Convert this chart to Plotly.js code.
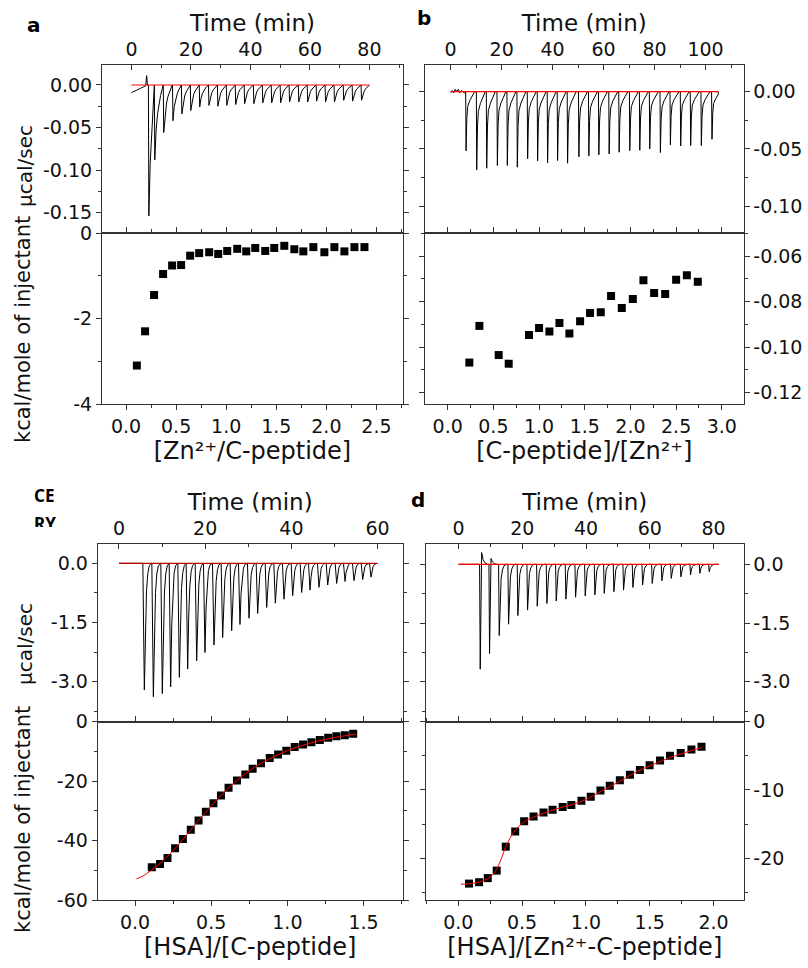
<!DOCTYPE html>
<html><head><meta charset="utf-8">
<script src="https://cdn.plot.ly/plotly-3.0.1.min.js"></script>
<style>html,body{margin:0;padding:0;background:#fff}#chart{width:808px;height:968px}</style>
</head><body><div id="chart"></div>
<script>
// ---------- Panel a : Zn2+ into C-peptide ----------
const aTimePre  = [0, 1.5, 3.0, 4.2, 4.8, 5.1, 5.4];
const aPowerPre = [-0.009, -0.006, -0.004, -0.002, -0.001, 0.011, 0.0];
const aInjTime  = [5.8, 7.8, 10.8, 13.9, 16.9, 19.9, 22.9, 26.0, 29.0, 32.0, 35.0, 38.0, 41.1, 44.1, 47.1, 50.1, 53.1, 56.2, 59.2, 62.2, 65.2, 68.2, 71.3, 74.3, 77.3];
const aPeak     = [-0.154, -0.088, -0.056, -0.042, -0.034, -0.030, -0.026, -0.024, -0.025, -0.024, -0.023, -0.022, -0.022, -0.021, -0.021, -0.021, -0.020, -0.020, -0.020, -0.019, -0.020, -0.020, -0.018, -0.019, -0.018];
const aEnd      = 80;
const aProfDt   = [-0.1, 0.05, 0.5, 1.0, 1.5, 2.0, 2.5, 2.9];
const aProfFrac = [0, 1, 0.6, 0.38, 0.24, 0.14, 0.06, 0];
const aBaseT    = [0, 80];
const aRatio    = [0.108, 0.19, 0.28, 0.37, 0.46, 0.55, 0.64, 0.73, 0.83, 0.92, 1.01, 1.11, 1.20, 1.29, 1.39, 1.48, 1.58, 1.68, 1.77, 1.87, 1.98, 2.08, 2.18, 2.28, 2.38];
const aHeat     = [-3.10, -2.30, -1.45, -0.96, -0.76, -0.75, -0.53, -0.47, -0.45, -0.49, -0.42, -0.37, -0.43, -0.35, -0.42, -0.35, -0.30, -0.38, -0.43, -0.33, -0.45, -0.33, -0.43, -0.33, -0.33];

// ---------- Panel b : C-peptide into Zn2+ ----------
const bTimePre  = [0, 0.6, 1.2, 1.8, 2.4, 3.0, 3.6, 4.2, 4.8, 5.4];
const bPowerPre = [-0.001, 0.001, -0.001, 0.002, 0.0, 0.002, -0.001, 0.001, 0.0, -0.001];
const bInjTime  = [5.99, 10.17, 14.09, 18.27, 22.18, 26.1, 30.15, 34.06, 37.98, 41.9, 45.82, 50.25, 54.17, 58.09, 62.13, 66.05, 70.23, 74.15, 78.06, 82.24, 86.16, 90.2, 94.12, 98.3, 102.48];
const bPeak     = [-0.0517, -0.0683, -0.0669, -0.0645, -0.0645, -0.0660, -0.0587, -0.0605, -0.0622, -0.0602, -0.0625, -0.0570, -0.0561, -0.0552, -0.0544, -0.0529, -0.0515, -0.0512, -0.0500, -0.0532, -0.0465, -0.0474, -0.0471, -0.0471, -0.0416];
const bEnd      = 105;
const bProfDt   = [-0.1, 0.05, 0.35, 0.7, 1.5, 2.5, 3.4];
const bProfFrac = [0, 1, 0.45, 0.25, 0.15, 0.06, 0];
const bBaseT    = [0, 105];
const bRatio    = [0.237, 0.347, 0.558, 0.668, 0.89, 1.0, 1.113, 1.223, 1.332, 1.449, 1.558, 1.675, 1.788, 1.905, 2.026, 2.142, 2.259, 2.380, 2.50, 2.617, 2.737];
const bHeat     = [-0.1068, -0.0907, -0.1035, -0.1073, -0.0947, -0.0916, -0.0932, -0.0894, -0.0940, -0.0887, -0.0850, -0.0847, -0.0776, -0.0828, -0.0789, -0.0707, -0.0762, -0.0767, -0.0704, -0.0685, -0.0713];

// ---------- Panel c : HSA into C-peptide ----------
const cTimePre  = [0, 5.5];
const cPowerPre = [0, 0];
const cInjTime  = [5.88, 7.97, 10.05, 11.99, 14.0, 15.93, 18.02, 19.95, 22.04, 24.05, 26.14, 28.07, 30.16, 32.17, 34.26, 36.27, 38.28, 40.29, 42.38, 44.32, 46.4, 48.42, 50.5, 52.44, 54.52, 56.54, 58.47];
const cPeak     = [-3.21, -3.38, -3.30, -3.13, -2.89, -2.68, -2.47, -2.26, -2.07, -1.88, -1.71, -1.55, -1.39, -1.27, -1.12, -1.01, -0.91, -0.82, -0.74, -0.68, -0.61, -0.55, -0.51, -0.46, -0.44, -0.41, -0.35];
const cEnd      = 59.9;
const cProfDt   = [-0.35, 0, 0.25, 0.5, 0.8, 1.15, 1.6];
const cProfFrac = [0, 1, 0.5, 0.22, 0.08, 0.02, 0];
const cBaseT    = [0, 60];
const cRatio    = [0.110, 0.164, 0.213, 0.263, 0.314, 0.366, 0.417, 0.465, 0.515, 0.564, 0.614, 0.669, 0.724, 0.772, 0.827, 0.884, 0.939, 0.993, 1.048, 1.103, 1.158, 1.213, 1.268, 1.322, 1.377, 1.432];
const cHeat     = [-49.0, -47.9, -45.9, -42.6, -39.5, -36.4, -33.3, -30.3, -27.5, -24.9, -22.3, -19.8, -17.8, -15.9, -14.0, -12.3, -11.1, -9.8, -8.6, -7.7, -7.0, -6.2, -5.5, -5.0, -4.6, -4.1];
const cFitX     = [0.01, 0.05, 0.10, 0.15, 0.20, 0.25, 0.30, 0.35, 0.40, 0.45, 0.50, 0.55, 0.60, 0.65, 0.70, 0.80, 0.90, 1.00, 1.10, 1.20, 1.30, 1.40, 1.45];
const cFitY     = [-52.9, -52.0, -50.3, -48.3, -46.0, -43.4, -40.5, -37.4, -34.3, -31.3, -28.4, -25.6, -23.0, -20.6, -18.5, -14.9, -12.1, -9.8, -8.0, -6.6, -5.5, -4.6, -4.2];

// ---------- Panel d : HSA into Zn2+-C-peptide ----------
const dTimePre  = [0, 6.5];
const dPowerPre = [0, 0];
const dInjTime  = [6.81, 9.74, 12.77, 15.7, 18.62, 21.66, 24.69, 27.72, 30.65, 33.68, 36.72, 39.75, 42.78, 45.71, 48.74, 51.77, 54.7, 57.74, 60.77, 63.8, 66.73, 69.76, 72.79, 75.72, 78.65];
const dPeak     = [-2.68, -2.28, -1.82, -1.53, -1.31, -1.17, -1.07, -1.00, -0.94, -0.89, -0.84, -0.81, -0.78, -0.74, -0.70, -0.66, -0.59, -0.53, -0.49, -0.42, -0.36, -0.32, -0.27, -0.23, -0.19];
const dOvershoot = [0.30, 0.15];
const dEnd      = 81.6;
const dProfDt   = [-0.2, 0, 0.3, 0.6, 1.0, 1.5, 2.2];
const dProfFrac = [0, 1, 0.45, 0.2, 0.08, 0.02, 0];
const dOsDt     = [0.45, 0.9, 1.5, 2.3];
const dOsFrac   = [1, 0.4, 0.12, 0];
const dBaseT    = [0, 81.6];
const dRatio    = [0.084, 0.163, 0.231, 0.301, 0.372, 0.446, 0.516, 0.590, 0.668, 0.739, 0.818, 0.886, 0.965, 1.038, 1.114, 1.187, 1.266, 1.345, 1.423, 1.499, 1.581, 1.659, 1.743, 1.827, 1.906];
const dHeat     = [-23.7, -23.5, -22.9, -21.8, -18.3, -16.1, -14.6, -13.9, -13.3, -12.9, -12.5, -12.2, -11.6, -11.0, -10.1, -9.4, -8.6, -7.8, -7.1, -6.4, -5.7, -5.0, -4.6, -4.1, -3.7];
const dFitX     = [0.02, 0.10, 0.18, 0.23, 0.27, 0.30, 0.33, 0.36, 0.39, 0.42, 0.45, 0.50, 0.55, 0.60, 0.70, 0.80, 0.90, 1.00, 1.10, 1.20, 1.30, 1.40, 1.50, 1.60, 1.70, 1.80, 1.91];
const dFitY     = [-23.8, -23.7, -23.4, -23.0, -22.4, -21.6, -20.4, -18.9, -17.6, -16.6, -15.8, -14.9, -14.3, -13.9, -13.2, -12.6, -12.1, -11.4, -10.4, -9.4, -8.4, -7.3, -6.5, -5.7, -5.0, -4.4, -3.8];

// ---------- tick labels ----------
const timeTicksA = [0, 20, 40, 60, 80];
const timeTicksB = [0, 20, 40, 60, 80, 100];
const timeTicksC = [0, 20, 40, 60];
const timeTicksD = [0, 20, 40, 60, 80];
const aRawTickV = [0, -0.05, -0.10, -0.15], aRawTickT = ['0.00', '-0.05', '-0.10', '-0.15'];
const aIntTickV = [0, -2, -4], aIntTickT = ['0', '-2', '-4'];
const bRawTickV = [0, -0.05, -0.10], bRawTickT = ['0.00', '-0.05', '-0.10'];
const bIntTickV = [-0.06, -0.08, -0.10, -0.12], bIntTickT = ['-0.06', '-0.08', '-0.10', '-0.12'];
const cRawTickV = [0, -1.5, -3.0], cRawTickT = ['0.0', '-1.5', '-3.0'];
const cIntTickV = [0, -20, -40, -60], cIntTickT = ['0', '-20', '-40', '-60'];
const dRawTickV = [0, -1.5, -3.0], dRawTickT = ['0.0', '-1.5', '-3.0'];
const dIntTickV = [0, -10, -20], dIntTickT = ['0', '-10', '-20'];
const aRatioTickV = [0, 0.5, 1.0, 1.5, 2.0, 2.5], aRatioTickT = ['0.0', '0.5', '1.0', '1.5', '2.0', '2.5'];
const bRatioTickV = [0, 0.5, 1.0, 1.5, 2.0, 2.5, 3.0], bRatioTickT = ['0.0', '0.5', '1.0', '1.5', '2.0', '2.5', '3.0'];
const cRatioTickV = [0, 0.5, 1.0, 1.5], cRatioTickT = ['0.0', '0.5', '1.0', '1.5'];
const dRatioTickV = [0, 0.5, 1.0, 1.5, 2.0], dRatioTickT = ['0.0', '0.5', '1.0', '1.5', '2.0'];

// ---------- build raw thermogram traces from read values ----------
function buildRaw(preT, preV, inj, peak, end, pdt, pfr, os, osDt, osFr) {
  const t = preT.slice(), v = preV.slice();
  for (let i = 0; i < inj.length; i++) {
    const limit = (i + 1 < inj.length) ? inj[i + 1] + pdt[0] - 1e-6 : end - 1e-6;
    const o = os && os[i] ? os[i] : 0;
    if (o) {
      t.push(inj[i] + pdt[0]); v.push(0);
      t.push(inj[i]); v.push(peak[i]);
      for (let k = 0; k < osDt.length; k++) {
        const tt = inj[i] + osDt[k];
        if (tt < limit) { t.push(tt); v.push(o * osFr[k]); }
      }
    } else {
      for (let k = 0; k < pdt.length; k++) {
        const tt = inj[i] + pdt[k];
        if (tt < limit) { t.push(tt); v.push(peak[i] * pfr[k]); }
      }
    }
  }
  t.push(end); v.push(0);
  return {t, v};
}
const rawA = buildRaw(aTimePre, aPowerPre, aInjTime, aPeak, aEnd, aProfDt, aProfFrac);
const rawB = buildRaw(bTimePre, bPowerPre, bInjTime, bPeak, bEnd, bProfDt, bProfFrac);
const rawC = buildRaw(cTimePre, cPowerPre, cInjTime, cPeak, cEnd, cProfDt, cProfFrac);
const rawD = buildRaw(dTimePre, dPowerPre, dInjTime, dPeak, dEnd, dProfDt, dProfFrac, dOvershoot, dOsDt, dOsFrac);

const FONT = 'DejaVu Sans';
const LC = '#333';
const rawLine = {color: '#000', width: 1};
const redLine = {color: '#ff0000', width: 1.2};
const sq = {symbol: 'square', size: 8, color: '#000'};

const traces = [
  {x: rawA.t, y: rawA.v, xaxis: 'x', yaxis: 'y', mode: 'lines', line: rawLine},
  {x: aBaseT, y: aBaseT.map(() => 0), xaxis: 'x', yaxis: 'y', mode: 'lines', line: redLine},
  {x: aRatio, y: aHeat, xaxis: 'x2', yaxis: 'y2', mode: 'markers', marker: sq},
  {x: rawB.t, y: rawB.v, xaxis: 'x3', yaxis: 'y3', mode: 'lines', line: rawLine},
  {x: bBaseT, y: bBaseT.map(() => 0), xaxis: 'x3', yaxis: 'y3', mode: 'lines', line: redLine},
  {x: bRatio, y: bHeat, xaxis: 'x4', yaxis: 'y4', mode: 'markers', marker: sq},
  {x: rawC.t, y: rawC.v, xaxis: 'x5', yaxis: 'y5', mode: 'lines', line: rawLine},
  {x: cBaseT, y: cBaseT.map(() => 0), xaxis: 'x5', yaxis: 'y5', mode: 'lines', line: {color: '#c00000', width: 1.2}},
  {x: cRatio, y: cHeat, xaxis: 'x6', yaxis: 'y6', mode: 'markers', marker: sq},
  {x: cFitX, y: cFitY, xaxis: 'x6', yaxis: 'y6', mode: 'lines', line: {color: '#ff0000', width: 1, shape: 'spline'}},
  {x: rawD.t, y: rawD.v, xaxis: 'x7', yaxis: 'y7', mode: 'lines', line: rawLine},
  {x: dBaseT, y: dBaseT.map(() => 0), xaxis: 'x7', yaxis: 'y7', mode: 'lines', line: redLine},
  {x: dRatio, y: dHeat, xaxis: 'x8', yaxis: 'y8', mode: 'markers', marker: sq},
  {x: dFitX, y: dFitY, xaxis: 'x8', yaxis: 'y8', mode: 'lines', line: {color: '#ff0000', width: 1, shape: 'spline'}}
];

const W = 808, H = 968;
const px = v => v / W;
const py = v => 1 - v / H;
const tickFont = {family: FONT, size: 19, color: '#111'};

function base(extra) {
  return Object.assign({
    showline: true, linecolor: LC, linewidth: 1, showgrid: false, zeroline: false,
    ticks: 'outside', ticklen: 5, tickwidth: 1, tickcolor: LC, tickfont: tickFont,
    tickmode: 'array', fixedrange: true
  }, extra);
}
function timeAxis(dom, range, anchor, vals) {
  return base({domain: dom, range, anchor, side: 'top', ticks: 'inside', mirror: true,
    tickvals: vals, ticktext: vals.map(String),
    minor: {dtick: 10, tick0: 0, ticks: 'inside', ticklen: 3, tickcolor: LC},
    title: {text: 'Time (min)', font: {family: FONT, size: 23, color: '#111'}, standoff: 0}});
}
function ratioAxis(dom, range, anchor, vals, txt, title) {
  return base({domain: dom, range, anchor, side: 'bottom', mirror: 'ticks',
    tickvals: vals, ticktext: txt,
    minor: {dtick: 0.25, tick0: 0, ticks: 'outside', ticklen: 3, tickcolor: LC},
    title: {text: title, font: {family: FONT, size: 24, color: '#111'}, standoff: 6}});
}
function valAxis(dom, range, anchor, side, vals, txt, minorDt) {
  return base({domain: dom, range, anchor, side, mirror: 'ticks',
    tickvals: vals, ticktext: txt,
    minor: {dtick: minorDt, tick0: 0, ticks: 'outside', ticklen: 3, tickcolor: LC}});
}

const aX = [px(102), px(403)], bX = [px(425), px(743.5)];
const cX = [px(97.7), px(402.7)], dX = [px(426), px(743.5)];
const abTop = [py(233), py(65)], abBot = [py(404), py(233)];
const cdTop = [py(721.5), py(544)], cdBot = [py(900), py(721.5)];

function ann(text, x, y, size, extra) {
  return Object.assign({text, x: px(x), y: py(y), xref: 'paper', yref: 'paper', xanchor: 'center', yanchor: 'middle',
    showarrow: false, font: {family: FONT, size, color: '#111'}}, extra || {});
}

const layout = {
  width: W, height: H, margin: {l: 0, r: 0, t: 0, b: 0},
  paper_bgcolor: '#fff', plot_bgcolor: '#fff', showlegend: false,
  font: {family: FONT, color: '#111'},
  xaxis:  timeAxis(aX, [-9.9, 91.3], 'y', timeTicksA),
  yaxis:  valAxis(abTop, [-0.1741, 0.0235], 'x', 'left', aRawTickV, aRawTickT, 0.025),
  xaxis2: ratioAxis(aX, [-0.24, 2.765], 'y2', aRatioTickV, aRatioTickT, '[Zn²⁺/C-peptide]'),
  yaxis2: valAxis(abBot, [-4, 0], 'x2', 'left', aIntTickV, aIntTickT, 1),
  xaxis3: timeAxis(bX, [-10.07, 114.9], 'y3', timeTicksB),
  yaxis3: valAxis(abTop, [-0.1235, 0.0233], 'x3', 'right', bRawTickV, bRawTickT, 0.025),
  xaxis4: ratioAxis(bX, [-0.248, 3.237], 'y4', bRatioTickV, bRatioTickT, '[C-peptide]/[Zn²⁺]'),
  yaxis4: valAxis(abBot, [-0.125, -0.0499], 'x4', 'right', bIntTickV, bIntTickT, 0.01),
  xaxis5: timeAxis(cX, [-4.94, 65.82], 'y5', timeTicksC),
  yaxis5: valAxis(cdTop, [-4.008, 0.489], 'x5', 'left', cRawTickV, cRawTickT, 0.75),
  xaxis6: ratioAxis(cX, [-0.245, 1.757], 'y6', cRatioTickV, cRatioTickT, '[HSA]/[C-peptide]'),
  yaxis6: valAxis(cdBot, [-60, 0], 'x6', 'left', cIntTickV, cIntTickT, 10),
  xaxis7: timeAxis(dX, [-10.2, 89.4], 'y7', timeTicksD),
  yaxis7: valAxis(cdTop, [-4.017, 0.519], 'x7', 'right', dRawTickV, dRawTickT, 0.75),
  xaxis8: ratioAxis(dX, [-0.253, 2.235], 'y8', dRatioTickV, dRatioTickT, '[HSA]/[Zn²⁺-C-peptide]'),
  yaxis8: valAxis(cdBot, [-26.1, 0], 'x8', 'right', dIntTickV, dIntTickT, 5),
  annotations: [
    ann('µcal/sec', 25, 166, 20, {textangle: -90}),
    ann('kcal/mole of injectant', 23, 330, 21, {textangle: -90}),
    ann('µcal/sec', 25, 644, 20, {textangle: -90}),
    ann('kcal/mole of injectant', 23, 820, 21, {textangle: -90}),
    ann('<b>a</b>', 34, 24.5, 20, {font: {family: FONT, size: 20, color: '#000'}}),
    ann('<b>b</b>', 424, 17.5, 20, {font: {family: FONT, size: 20, color: '#000'}}),
    ann('<b>d</b>', 418, 500, 20, {font: {family: FONT, size: 20, color: '#000'}}),
    ann('<b>CE</b>', 44, 496, 17, {font: {family: 'Noto Sans', size: 17, color: '#000'}}),
    ann('<b>RY</b>', 45, 510, 17, {yanchor: 'top', valign: 'top', height: 15, font: {family: 'Noto Sans', size: 17, color: '#000'}})
  ]
};

Plotly.newPlot('chart', traces, layout, {displayModeBar: false, staticPlot: true});
</script></body></html>
